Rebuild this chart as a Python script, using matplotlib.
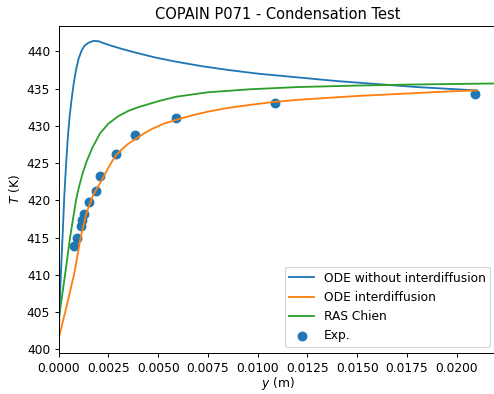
import matplotlib
matplotlib.use("Agg")
import matplotlib.pyplot as plt
from matplotlib.ticker import MultipleLocator

# ODE model without interdiffusion
y_nodiff = [0.0, 0.00005, 0.0001, 0.00015, 0.0002, 0.00028, 0.00037, 0.00046,
            0.00055, 0.00065, 0.00075, 0.00087, 0.001, 0.00115, 0.0013,
            0.0015, 0.00175, 0.002, 0.0023, 0.0027, 0.0032, 0.0039, 0.0048,
            0.0059, 0.0072, 0.0085, 0.010, 0.012, 0.014, 0.016, 0.018,
            0.020, 0.021]
T_nodiff = [401.5, 406.0, 409.5, 412.6, 415.5, 420.5, 424.8, 428.5,
            431.3, 433.6, 435.6, 437.5, 439.0, 440.1, 440.75,
            441.15, 441.4, 441.35, 441.05, 440.7, 440.3, 439.8, 439.2,
            438.6, 438.0, 437.5, 437.0, 436.5, 436.0, 435.6, 435.2,
            434.9, 434.75]

# ODE model with interdiffusion
y_diff = [0.0, 0.0004, 0.0008, 0.0011, 0.0014, 0.0017, 0.0019, 0.0021,
          0.0023, 0.0025, 0.0027, 0.0029, 0.0032, 0.0035, 0.0039, 0.0043,
          0.0047, 0.0053, 0.0059, 0.0067, 0.0075, 0.0085, 0.0096, 0.0108,
          0.0121, 0.0135, 0.015, 0.0165, 0.018, 0.0195, 0.021]
T_diff = [401.5, 405.8, 410.4, 415.0, 418.3, 420.5, 421.5, 422.4,
          423.4, 424.4, 425.3, 426.1, 426.9, 427.6, 428.3, 429.0,
          429.6, 430.3, 430.8, 431.4, 431.9, 432.4, 432.8, 433.2,
          433.5, 433.75, 434.0, 434.2, 434.4, 434.6, 434.75]

# RAS Chien model
y_ras = [0.0, 0.00015, 0.00033, 0.00057, 0.00087, 0.001, 0.0012, 0.0014,
         0.0017, 0.00208, 0.0025, 0.003, 0.0035, 0.004, 0.005, 0.0059,
         0.0075, 0.0096, 0.012, 0.015, 0.018, 0.021, 0.0225]
T_ras = [404.0, 406.8, 410.2, 415.0, 420.0, 421.6, 423.6, 425.2,
         427.1, 429.0, 430.3, 431.3, 432.0, 432.5, 433.3, 433.9,
         434.5, 434.9, 435.2, 435.4, 435.55, 435.65, 435.7]

# measurements
y_exp = [0.00078, 0.00091, 0.00111, 0.00119, 0.00127, 0.00154, 0.00186,
         0.00208, 0.0029, 0.00384, 0.00589, 0.01087, 0.02093]
T_exp = [413.9, 415.0, 416.6, 417.4, 418.15, 419.8, 421.3,
         423.2, 426.2, 428.7, 431.0, 433.0, 434.3]

fig = plt.figure(figsize=(494 / 88, 394 / 88), dpi=88)
ax = fig.add_axes([58.7 / 494, 41 / 394, 437.8 / 494, 327 / 394])

ax.plot(y_nodiff, T_nodiff, label='ODE without interdiffusion')
ax.plot(y_diff, T_diff, label='ODE interdiffusion')
ax.plot(y_ras, T_ras, label='RAS Chien')
ax.scatter(y_exp, T_exp, s=50, label='Exp.')

ax.set_xlim(0, 0.022)
ax.xaxis.set_major_locator(MultipleLocator(0.0025))
ax.yaxis.set_major_locator(MultipleLocator(5))
ax.set_xlabel('$y$ (m)', labelpad=0.5)
ax.set_ylabel('$T$ (K)')
ax.set_title('COPAIN P071 - Condensation Test')
ax.legend(loc='lower right')

fig.savefig('out.png', dpi=88)
